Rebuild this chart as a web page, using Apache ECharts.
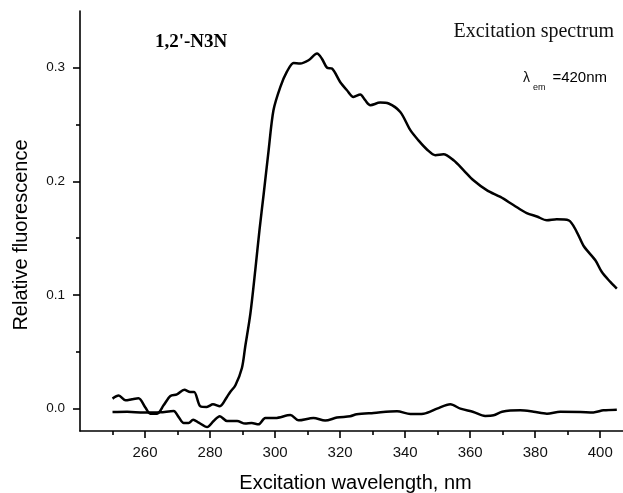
<!DOCTYPE html>
<html>
<head>
<meta charset="utf-8">
<script src="https://cdn.jsdelivr.net/npm/echarts@6/dist/echarts.min.js"></script>
<style>
  html, body { margin: 0; padding: 0; background: #fff; }
  #chart { width: 623px; height: 493px; }
</style>
</head>
<body>
<div id="chart"></div>
<script>
// 主曲线 (excitation spectrum)
var mainWl = [250, 251.9, 254, 256, 258, 260.1, 261.6, 263.7, 265.7, 267.8, 269.8, 272.1, 273.9, 275.1,
  277, 279, 280.9, 283, 285.2, 286.2, 287.8, 289.8, 290.8, 292.4, 293.9, 295.2, 296.5, 298, 299.5, 301.6,
  303.6, 305.7, 307.7, 310.3, 312.9, 314.4, 316, 317.5, 320, 322.1, 324.1, 326.2, 327.7, 329.3,
  332.3, 334.9, 338.5, 341.6, 344.1, 346.7, 349.3, 351.8, 354.9, 358, 361, 365.2, 369.3, 373.4,
  377.4, 380.5, 383.6, 386.6, 390.3, 392.8, 394.9, 398.5, 400.5, 403.1, 405.1];
var mainVal = [0.0085, 0.0112, 0.007, 0.008, 0.0088, 0.0006, -0.0047, -0.0047, 0.0026, 0.0109, 0.0123,
  0.0164, 0.0144, 0.0144, 0.0018, 0.0012, 0.0035, 0.0018, 0.01, 0.0144, 0.0203, 0.0355, 0.054, 0.0834,
  0.1216, 0.157, 0.189, 0.227, 0.2626, 0.283, 0.2963, 0.3043, 0.3037, 0.3066, 0.3125, 0.308, 0.300,
  0.2993, 0.2875, 0.2802, 0.2743, 0.2764, 0.2714, 0.267, 0.2693, 0.2685, 0.261, 0.245, 0.236, 0.228,
  0.223, 0.2238, 0.2185, 0.2097, 0.2009, 0.192, 0.1862, 0.1789, 0.172, 0.169, 0.1656, 0.1665, 0.1656,
  0.1553, 0.143, 0.1304, 0.12, 0.1113, 0.1054];

// 基线曲线
var baseWl = [250, 254.5, 259.6, 264.7, 268.8, 270.3, 271.9, 273.4, 274.8, 276.5, 279.1, 281.1, 283,
  285.2, 288.3, 290.8, 292.8, 294.9, 297, 300.1, 304.7, 307.2, 311.8, 315.4, 319, 323.1, 325.1, 330.3,
  337.5, 341.6, 345.7, 349.8, 353.9, 357, 361, 364.6, 367.2, 369.8, 375.4, 379.5, 383.6, 387.7, 393.9,
  397.9, 401, 405.1];
var baseVal = [-0.0032, -0.003, -0.0038, -0.0035, -0.0024, -0.0076, -0.013, -0.013, -0.01, -0.0126,
  -0.0165, -0.0112, -0.007, -0.0112, -0.0112, -0.0135, -0.013, -0.0141, -0.0085, -0.0085, -0.0059,
  -0.0106, -0.0085, -0.0108, -0.0082, -0.007, -0.0053, -0.0041, -0.0026, -0.005, -0.0047, -0.0003,
  0.0035, -0.0003, -0.0032, -0.0067, -0.0062, -0.003, -0.0018, -0.003, -0.0047, -0.003, -0.0032,
  -0.0036, -0.0018, -0.0012];

// 刻度
var xMajorTicks = [260, 280, 300, 320, 340, 360, 380, 400];
var xMinorTicks = [250, 270, 290, 310, 330, 350, 370, 390];
var yMajorTicks = [0, 0.1, 0.2, 0.3];
var yMinorTicks = [0.05, 0.15, 0.25];

function zip(xs, ys) {
  return xs.map(function (x, i) { return [x, ys[i]]; });
}

var myChart = echarts.init(document.getElementById("chart"));

var sans = "Liberation Sans, Arial, sans-serif";
var serif = "Liberation Serif, Times New Roman, serif";
var axisLineStyle = { color: "#000", width: 1.6 };

var option = {
  backgroundColor: "#fff",
  animation: false,
  grid: { left: 80, right: 0, top: 11, bottom: 62, containLabel: false, outerBoundsMode: "none" },
  xAxis: [
    {
      type: "value",
      min: 240,
      max: 407,
      name: "Excitation wavelength, nm",
      nameLocation: "middle",
      nameGap: 42,
      nameTextStyle: { fontFamily: sans, fontSize: 20, color: "#000", padding: [0, 0, 0, 8] },
      axisLine: { show: true, onZero: false, lineStyle: axisLineStyle },
      axisTick: { show: true, inside: false, length: 7, customValues: xMajorTicks, lineStyle: axisLineStyle },
      axisLabel: { customValues: xMajorTicks, margin: 14, fontFamily: sans, fontSize: 15, color: "#111" },
      splitLine: { show: false }
    },
    {
      type: "value",
      min: 240,
      max: 407,
      position: "bottom",
      axisLine: { show: false, onZero: false },
      axisTick: { show: true, length: 4, customValues: xMinorTicks, lineStyle: axisLineStyle },
      axisLabel: { show: false },
      splitLine: { show: false }
    }
  ],
  yAxis: [
    {
      type: "value",
      min: -0.02,
      max: 0.35,
      axisLine: { show: true, onZero: false, lineStyle: axisLineStyle },
      axisTick: { show: true, length: 7, customValues: yMajorTicks, lineStyle: axisLineStyle },
      axisLabel: {
        customValues: yMajorTicks,
        margin: 15,
        fontFamily: sans,
        fontSize: 13.5,
        color: "#111",
        formatter: function (v) { return v.toFixed(1); }
      },
      splitLine: { show: false }
    },
    {
      type: "value",
      min: -0.02,
      max: 0.35,
      position: "left",
      axisLine: { show: false, onZero: false },
      axisTick: { show: true, length: 4, customValues: yMinorTicks, lineStyle: axisLineStyle },
      axisLabel: { show: false },
      splitLine: { show: false }
    }
  ],
  series: [
    {
      name: "excitation",
      type: "line",
      xAxisIndex: 0,
      yAxisIndex: 0,
      data: zip(mainWl, mainVal),
      smooth: 0.3,
      showSymbol: false,
      lineStyle: { color: "#000", width: 2.5 }
    },
    {
      name: "baseline",
      type: "line",
      xAxisIndex: 0,
      yAxisIndex: 0,
      data: zip(baseWl, baseVal),
      smooth: 0.3,
      showSymbol: false,
      lineStyle: { color: "#000", width: 2.5 }
    }
  ],
  graphic: [
    {
      type: "text",
      x: 21,
      y: 235,
      rotation: Math.PI / 2,
      style: {
        text: "Relative fluorescence",
        font: "20px " + sans,
        fill: "#000",
        align: "center",
        verticalAlign: "middle"
      }
    },
    {
      type: "text",
      x: 155,
      y: 42,
      style: {
        text: "1,2'-N3N",
        font: "bold 19px " + serif,
        fill: "#000",
        align: "left",
        verticalAlign: "middle"
      }
    },
    {
      type: "text",
      x: 614,
      y: 32,
      style: {
        text: "Excitation spectrum",
        font: "20px " + serif,
        fill: "#111",
        align: "right",
        verticalAlign: "middle"
      }
    },
    // λem=420nm
    {
      type: "text",
      x: 523,
      y: 78,
      style: { text: "λ", font: "14px " + sans, fill: "#111", align: "left", verticalAlign: "middle" }
    },
    {
      type: "text",
      x: 533,
      y: 88,
      style: { text: "em", font: "9px " + sans, fill: "#111", align: "left", verticalAlign: "middle" }
    },
    {
      type: "text",
      x: 607,
      y: 78,
      style: { text: "=420nm", font: "15px " + sans, fill: "#000", align: "right", verticalAlign: "middle" }
    }
  ]
};

myChart.setOption(option);
</script>
</body>
</html>
